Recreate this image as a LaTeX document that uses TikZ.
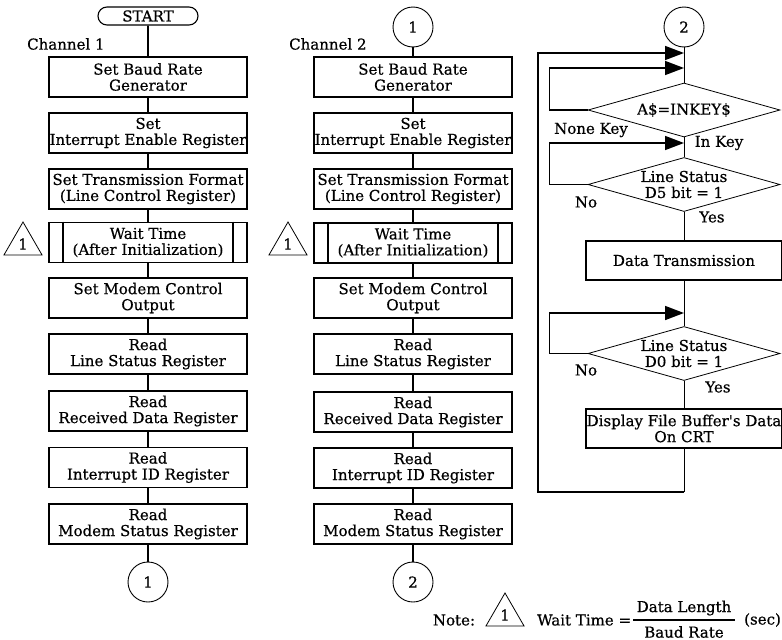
\documentclass[tikz,border=0pt]{standalone}
\usepackage{fontspec}
\setmainfont[FakeBold=0.6]{DejaVu Serif}
\newfontfamily\aposfont[FakeBold=0.6,Ligatures=ResetAll]{DejaVu Serif}
\usetikzlibrary{shapes.geometric,shapes.misc,arrows.meta,calc}
\begin{document}
\begin{tikzpicture}[x=1pt,y=-1pt,
  every node/.style={font=\fontsize{15}{16}\selectfont},
  box/.style={draw,line width=1.6pt,minimum width=198pt,minimum height=40pt,align=center,inner sep=0pt},
  rbox/.style={draw,line width=1.6pt,minimum width=196pt,minimum height=39pt,align=center,inner sep=0pt},
  term/.style={draw,rounded rectangle,line width=1.1pt,minimum width=100pt,minimum height=18pt,inner sep=0pt},
  conc/.style={draw,circle,line width=0.9pt,minimum size=40pt,inner sep=0pt},
  tri/.style={draw,regular polygon,regular polygon sides=3,line width=0.8pt,minimum size=44pt,inner sep=0pt},
  dia/.style={draw,diamond,line width=0.8pt,shape aspect=3.5,minimum width=192pt,minimum height=54pt,inner sep=0pt,align=center},
  conn/.style={line width=1.6pt},
  thinconn/.style={line width=0.8pt},
  loopline/.style={line width=1.6pt,-{Triangle[length=19pt,width=14pt]}},
  lbl/.style={inner sep=0pt}
]
\useasboundingbox (0,0) rectangle (782,640);

% ---------- Column 1 ----------
\node[term] (start) at (148,16) {START};
\node[lbl,anchor=west] (ch1) at (27,44) {Channel 1};
\node[box] (a1) at (148,77) {Set Baud Rate\\Generator};
\node[box] (a2) at (148,133) {Set\\Interrupt Enable Register};
\node[box] (a3) at (148,189) {Set Transmission Format\\(Line Control Register)};
\node[box] (a4) at (148,242.5) {Wait Time\\(After Initialization)};
\node[box] (a5) at (148,298) {Set Modem Control\\Output};
\node[box] (a6) at (148,354) {Read\\Line Status Register};
\node[box] (a7) at (148,411) {Read\\Received Data Register};
\node[box] (a8) at (148,467.5) {Read\\Interrupt ID Register};
\node[box] (a9) at (148,524) {Read\\Modem Status Register};
\node[conc] (c1) at (148,582) {1};
\node[tri] (t1) at (23,244) {1};
\draw[conn] ($(a4.north west)+(15,0)$) -- ($(a4.south west)+(15,0)$);
\draw[conn] ($(a4.north east)+(-15,0)$) -- ($(a4.south east)+(-15,0)$);
\draw[conn] (start) -- (a1);
\foreach \p/\q in {a1/a2,a2/a3,a3/a4,a4/a5,a5/a6,a6/a7,a7/a8,a8/a9,a9/c1}
  \draw[conn] (\p) -- (\q);

% ---------- Column 2 ----------
\node[conc] (ca) at (413,27) {1};
\node[lbl,anchor=west] (ch2) at (289,44) {Channel 2};
\node[box] (b1) at (413,77) {Set Baud Rate\\Generator};
\node[box] (b2) at (413,133) {Set\\Interrupt Enable Register};
\node[box] (b3) at (413,189) {Set Transmission Format\\(Line Control Register)};
\node[box] (b4) at (413,243) {Wait Time\\(After Initialization)};
\node[box] (b5) at (413,298) {Set Modem Control\\Output};
\node[box] (b6) at (413,354) {Read\\Line Status Register};
\node[box] (b7) at (413,412) {Read\\Received Data Register};
\node[box] (b8) at (413,468) {Read\\Interrupt ID Register};
\node[box] (b9) at (413,524) {Read\\Modem Status Register};
\node[conc] (c2) at (413,582) {2};
\node[tri] (t2) at (288,244) {1};
\draw[conn] ($(b4.north west)+(15,0)$) -- ($(b4.south west)+(15,0)$);
\draw[conn] ($(b4.north east)+(-15,0)$) -- ($(b4.south east)+(-15,0)$);
\foreach \p/\q in {ca/b1,b1/b2,b2/b3,b3/b4,b4/b5,b5/b6,b6/b7,b7/b8,b8/b9,b9/c2}
  \draw[conn] (\p) -- (\q);

% ---------- Column 3 ----------
\node[conc] (cb) at (684,27) {2};
\node[dia] (d1) at (684,110) {A\$=INKEY\$};
\node[dia] (d2) at (684,184.5) {Line Status\\D5 bit = 1};
\node[rbox] (tx) at (684,260.5) {Data Transmission};
\node[dia] (d3) at (684,353.5) {Line Status\\D0 bit = 1};
\node[rbox] (disp) at (684,428.5) {Display File Buffer{\aposfont '}s Data\\On CRT};

\coordinate (m1) at (684,53);
\coordinate (m2) at (684,68);
\coordinate (m3) at (684,143);
\coordinate (m4) at (684,313);
\coordinate (ob) at (684,492);

\draw[thinconn] (cb) -- (d1.north);
\draw[thinconn] (d1.south) -- (d2.north);
\draw[thinconn] (d2.south) -- (tx);
\draw[thinconn] (tx) -- (d3.north);
\draw[thinconn] (d3.south) -- (disp);
\draw[thinconn] (disp) -- (ob);

\draw[loopline] (ob) -| (538,53) -- (m1);
\draw[loopline] (d1.west) -- ++(-38,0) |- (m2);
\draw[loopline] (d2.west) -- ++(-38,0) |- (m3);
\draw[loopline] (d3.west) -- ++(-38,0) |- (m4);

\node[lbl] (nk) at (591,130) {None Key};
\node[lbl] (ik) at (719,143) {In Key};
\node[lbl] (no1) at (586,202) {No};
\node[lbl] (y1) at (712,217) {Yes};
\node[lbl] (no2) at (586,370) {No};
\node[lbl] (y2) at (718,387) {Yes};

% ---------- Note ----------
\node[lbl] (note) at (454,620) {Note:};
\node[tri] (t3) at (505,615) {1};
\node[lbl,anchor=west] (wt) at (537,620) {Wait Time =};
\node[lbl] (num) at (684,608) {Data Length};
\node[lbl] (den) at (684,632) {Baud Rate};
\draw[line width=1.4pt] (633,620) -- (735,620);
\node[lbl,anchor=west] (sec) at (744,620) {(sec)};
\end{tikzpicture}
\end{document}
